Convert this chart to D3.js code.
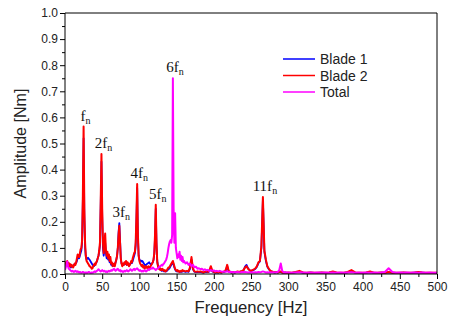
<!DOCTYPE html>
<html>
<head>
<meta charset="utf-8">
<script src="https://cdn.jsdelivr.net/npm/d3@7"></script>
<style>
  body { margin: 0; background: #fff; }
  svg { display: block; }
  .axis text { font-family: "Liberation Sans", Arial, sans-serif; font-size: 12px; fill: #222; }
  .axis path, .axis line { stroke: #000; }
</style>
</head>
<body>
<div id="chart"></div>
<script>
// frequency grid pieces [Hz]
const lowStart = 0, lowEnd = 159, lowStep = 1;
const midStart = 160, midEnd = 298, midStep = 2;
const highStart = 300, highEnd = 500, highStep = 5;

// Blade 2 amplitude [Nm]
const blade2Low = [
  .030,.045,.038,.050,.035,.042,.030,.038,.028,.035,
  .030,.025,.032,.040,.035,.045,.060,.075,.070,.065,
  .080,.095,.100,.130,.300,.565,.250,.120,.070,.050,
  .045,.040,.035,.030,.028,.025,.020,.022,.030,.035,
  .040,.035,.045,.050,.060,.070,.090,.120,.280,.460,
  .250,.120,.080,.120,.155,.090,.070,.085,.060,.075,
  .050,.065,.040,.045,.030,.035,.040,.030,.045,.055,
  .070,.100,.150,.185,.120,.060,.040,.030,.040,.035,
  .045,.040,.050,.035,.045,.040,.030,.035,.040,.050,
  .045,.060,.070,.080,.085,.120,.220,.345,.150,.070,
  .050,.040,.035,.030,.035,.025,.030,.020,.025,.030,
  .025,.020,.030,.025,.020,.030,.035,.040,.045,.055,
  .080,.150,.265,.120,.045,.030,.020,.025,.015,.020,
  .015,.020,.015,.012,.015,.010,.012,.015,.020,.025,
  .025,.030,.035,.040,.045,.050,.040,.030,.020,.015,
  .012,.015,.010,.012,.008,.010,.012,.010,.015,.012
];
const blade2Mid = [
  .012,.010,.012,.010,.025,.065,.020,.010,.008,.010,
  .008,.010,.008,.006,.008,.010,.008,.012,.030,.012,
  .008,.006,.008,.006,.008,.006,.008,.010,.015,.035,
  .012,.008,.006,.008,.006,.008,.010,.008,.010,.012,
  .015,.025,.030,.020,.015,.012,.015,.018,.022,.030,
  .045,.050,.110,.295,.090,.055,.030,.020,.012,.010,
  .008,.006,.008,.006,.008,.010,.006,.005,.006,.005
];
const blade2High = [
  .006,.005,.008,.012,.006,.005,.006,.005,.005,.006,
  .005,.006,.010,.006,.005,.005,.008,.015,.006,.005,
  .005,.006,.010,.005,.005,.006,.005,.008,.005,.005,
  .005,.006,.005,.005,.006,.008,.006,.005,.005,.005,
  .005
];

// Blade 1 amplitude [Nm]
const blade1Low = [
  .025,.035,.030,.040,.030,.035,.028,.030,.025,.030,
  .028,.030,.035,.038,.040,.042,.050,.060,.065,.060,
  .070,.080,.090,.120,.280,.520,.220,.100,.065,.055,
  .060,.062,.058,.055,.050,.045,.040,.035,.032,.030,
  .035,.040,.042,.050,.060,.070,.085,.110,.260,.430,
  .220,.100,.070,.090,.120,.080,.060,.070,.055,.060,
  .045,.050,.035,.040,.030,.032,.038,.035,.045,.055,
  .070,.100,.160,.195,.130,.060,.040,.035,.038,.035,
  .040,.038,.042,.035,.040,.038,.032,.035,.040,.045,
  .042,.050,.060,.070,.080,.110,.200,.330,.140,.070,
  .055,.050,.052,.048,.050,.045,.040,.035,.032,.035,
  .038,.040,.042,.045,.040,.038,.035,.040,.045,.055,
  .075,.140,.250,.110,.050,.030,.022,.020,.018,.015,
  .012,.015,.012,.010,.012,.010,.010,.012,.015,.020,
  .020,.025,.030,.035,.040,.045,.035,.025,.018,.012,
  .010,.012,.010,.010,.008,.008,.010,.008,.012,.010
];
const blade1Mid = [
  .010,.008,.010,.008,.020,.055,.018,.008,.007,.008,
  .007,.008,.006,.005,.007,.008,.007,.010,.025,.010,
  .007,.005,.006,.005,.007,.005,.007,.008,.012,.030,
  .010,.007,.005,.007,.005,.007,.008,.007,.009,.010,
  .014,.028,.035,.022,.014,.011,.014,.016,.020,.028,
  .042,.048,.100,.285,.085,.050,.028,.018,.011,.009,
  .007,.005,.007,.005,.007,.008,.005,.004,.005,.004
];
const blade1High = [
  .004,.004,.006,.008,.004,.004,.005,.004,.004,.005,
  .004,.005,.007,.004,.004,.004,.006,.010,.005,.004,
  .004,.005,.007,.004,.004,.005,.004,.006,.004,.004,
  .004,.005,.004,.004,.005,.006,.005,.004,.004,.004,
  .004
];

// Total amplitude [Nm]
const totalLow = [
  .015,.025,.035,.048,.030,.020,.018,.015,.012,.010,
  .012,.010,.008,.010,.012,.010,.008,.010,.008,.006,
  .008,.006,.005,.006,.008,.006,.005,.006,.005,.006,
  .005,.006,.008,.006,.005,.004,.006,.005,.006,.008,
  .010,.008,.010,.012,.015,.018,.015,.012,.010,.012,
  .015,.012,.010,.012,.010,.008,.010,.008,.010,.012,
  .010,.012,.015,.012,.015,.018,.020,.015,.012,.015,
  .018,.020,.015,.012,.015,.010,.012,.010,.008,.010,
  .012,.010,.012,.015,.012,.010,.012,.015,.018,.015,
  .012,.015,.018,.020,.015,.018,.020,.022,.018,.015,
  .012,.015,.012,.010,.012,.010,.012,.015,.012,.010,
  .012,.015,.018,.015,.018,.020,.022,.020,.025,.022,
  .020,.018,.015,.018,.020,.022,.025,.028,.030,.032,
  .035,.032,.038,.040,.045,.050,.055,.065,.080,.100,
  .115,.125,.130,.120,.150,.750,.250,.120,.233,.100,
  .080,.060,.075,.065,.085,.055,.070,.050,.065,.045
];
const totalMid = [
  .050,.040,.045,.035,.040,.030,.035,.025,.028,.020,
  .022,.018,.020,.015,.018,.014,.016,.012,.015,.012,
  .014,.010,.012,.010,.012,.010,.009,.010,.008,.010,
  .008,.009,.008,.007,.008,.007,.008,.007,.006,.008,
  .007,.008,.007,.006,.007,.006,.007,.006,.007,.006,
  .008,.007,.008,.010,.008,.006,.007,.006,.007,.006,
  .007,.006,.007,.008,.015,.040,.012,.006,.007,.006
];
const totalHigh = [
  .006,.005,.006,.007,.006,.005,.006,.005,.006,.005,
  .006,.005,.006,.005,.006,.005,.006,.007,.005,.006,
  .005,.006,.005,.006,.005,.006,.008,.022,.008,.005,
  .006,.005,.006,.005,.006,.005,.006,.005,.006,.005,
  .005
];

const seriesNames = ["Blade 1", "Blade 2", "Total"];
const seriesColors = ["#0000ff", "#ff0000", "#ff00ff"];

// harmonic labels
const peakLabels = ["", "2", "3", "4", "5", "6", "11"];
const peakFreqs = [25, 49, 73, 97, 122, 145, 266];
const peakAmps = [0.565, 0.46, 0.195, 0.345, 0.265, 0.75, 0.295];

const xTicks = d3.range(0, 501, 50);
const xMinor = d3.range(25, 500, 50);
const yTicks = d3.range(0, 1.001, 0.1);
const yMinor = d3.range(0.05, 1, 0.1);

const width = 449, height = 322;
const margin = {top: 13, right: 12, bottom: 48, left: 65};

const freqs = d3.range(lowStart, lowEnd + 1, lowStep)
  .concat(d3.range(midStart, midEnd + 1, midStep))
  .concat(d3.range(highStart, highEnd + 1, highStep));

const series = [
  blade1Low.concat(blade1Mid, blade1High),
  blade2Low.concat(blade2Mid, blade2High),
  totalLow.concat(totalMid, totalHigh)
];

const svg = d3.select('#chart').append('svg')
    .attr('width', width)
    .attr('height', height);

const x = d3.scaleLinear().domain([0, 500]).range([margin.left, width - margin.right]);
const y = d3.scaleLinear().domain([0, 1]).range([height - margin.bottom, margin.top]);

svg.append('clipPath').attr('id', 'clip')
  .append('rect')
  .attr('x', margin.left).attr('y', margin.top)
  .attr('width', width - margin.left - margin.right)
  .attr('height', height - margin.top - margin.bottom);

const line = d3.line()
    .x((d, i) => x(freqs[i]))
    .y(d => y(d));

svg.append('g').attr('clip-path', 'url(#clip)')
  .selectAll('path')
  .data(series)
  .enter()
  .append('path')
  .attr('d', line)
  .attr('fill', 'none')
  .attr('stroke', (d, i) => seriesColors[i])
  .attr('stroke-width', (d, i) => i == 0 ? 1.8 : 2)
  .attr('stroke-linejoin', 'round');

// frame on top and right
svg.append('path')
  .attr('d', 'M' + x(0) + ',' + y(1) + 'H' + x(500) + 'V' + y(0))
  .attr('fill', 'none')
  .attr('stroke', '#000');

// axes
svg.append('g').attr('class', 'axis')
  .attr('transform', 'translate(0,' + y(0) + ')')
  .call(d3.axisBottom(x).tickValues(xTicks).tickSize(5).tickPadding(3).tickFormat(d3.format('d')))
  .call(g => g.select('.domain').attr('d', 'M' + x(0) + ',0H' + x(500)));
svg.append('g').attr('class', 'axis')
  .attr('transform', 'translate(0,' + y(0) + ')')
  .call(d3.axisBottom(x).tickValues(xMinor).tickSize(3).tickFormat(''))
  .call(g => g.select('.domain').remove());

svg.append('g').attr('class', 'axis')
  .attr('transform', 'translate(' + x(0) + ',0)')
  .call(d3.axisLeft(y).tickValues(yTicks).tickSize(5).tickPadding(2).tickFormat(d3.format('.1f')))
  .call(g => g.select('.domain').attr('d', 'M0,' + y(0) + 'V' + y(1)));
svg.append('g').attr('class', 'axis')
  .attr('transform', 'translate(' + x(0) + ',0)')
  .call(d3.axisLeft(y).tickValues(yMinor).tickSize(3).tickFormat(''))
  .call(g => g.select('.domain').remove());

// axis titles
svg.append('text')
  .attr('x', (x(0) + x(500)) / 2)
  .attr('y', 313)
  .attr('text-anchor', 'middle')
  .attr('font-family', '"Liberation Sans", Arial, sans-serif')
  .attr('font-size', 17)
  .attr('textLength', 113)
  .attr('lengthAdjust', 'spacingAndGlyphs')
  .attr('fill', '#222')
  .text('Frequency [Hz]');

svg.append('text')
  .attr('transform', 'translate(26,' + (y(0) + y(1)) / 2 + ') rotate(-90)')
  .attr('text-anchor', 'middle')
  .attr('font-family', '"Liberation Sans", Arial, sans-serif')
  .attr('font-size', 17)
  .attr('textLength', 110)
  .attr('lengthAdjust', 'spacingAndGlyphs')
  .attr('fill', '#222')
  .text('Amplitude [Nm]');

// peak labels
const labels = svg.append('g')
  .selectAll('text')
  .data(peakFreqs)
  .enter()
  .append('text')
  .attr('x', d => x(d) + 2)
  .attr('y', (d, i) => y(peakAmps[i]) - 6)
  .attr('text-anchor', 'middle')
  .attr('font-family', '"Liberation Serif", "Times New Roman", serif')
  .attr('font-size', 15)
  .attr('fill', '#111');
labels.append('tspan').text((d, i) => peakLabels[i] + 'f');
labels.append('tspan').attr('font-size', 10).attr('dy', 3).text('n');

// legend
const legend = svg.append('g')
  .selectAll('g')
  .data(seriesNames)
  .enter()
  .append('g')
  .attr('transform', (d, i) => 'translate(283,' + (59 + i * 16.5) + ')');
legend.append('line')
  .attr('x1', 0).attr('x2', 32)
  .attr('stroke', (d, i) => seriesColors[i])
  .attr('stroke-width', 1.5);
legend.append('text')
  .attr('x', 37).attr('y', 5)
  .attr('font-family', '"Liberation Sans", Arial, sans-serif')
  .attr('font-size', 14)
  .attr('fill', '#222')
  .text(d => d);
</script>
</body>
</html>
